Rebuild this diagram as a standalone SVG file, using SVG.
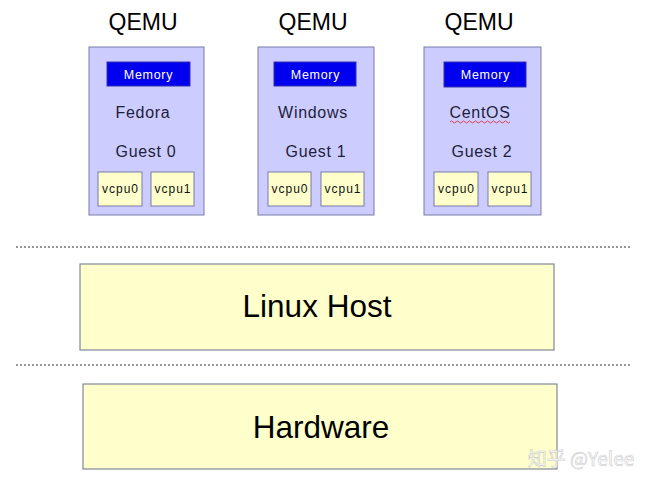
<svg xmlns="http://www.w3.org/2000/svg" width="650" height="486" viewBox="0 0 650 486">
<style>
.qemu{font-family:"Liberation Sans",Arial,sans-serif;font-size:23px;fill:#000;text-anchor:middle}
.guest{fill:#ccccff;stroke:#7a7aa8;stroke-width:1}
.mem{fill:#0000ee;stroke:#3333aa;stroke-width:1}
.memt{font-family:"Liberation Sans",Arial,sans-serif;font-size:12.5px;fill:#fff;text-anchor:middle;letter-spacing:0.7px}
.lbl{font-family:"Liberation Sans",Arial,sans-serif;font-size:16px;fill:#1e1e3a;text-anchor:middle;letter-spacing:0.7px}
.cpu{fill:#ffffcc;stroke:#7a7aa8;stroke-width:1}
.cput{font-family:"Liberation Sans",Arial,sans-serif;font-size:12px;fill:#111;text-anchor:middle;letter-spacing:1px}
.layer{fill:#ffffcc;stroke:#808898;stroke-width:1.2}
.big{font-family:"Liberation Sans",Arial,sans-serif;font-size:31.5px;fill:#000;text-anchor:middle}
.dot{stroke:#333;stroke-width:1;stroke-dasharray:2,2}
</style>
<g id="guest0">
<text class="qemu" x="143" y="30">QEMU</text>
<rect class="guest" x="89" y="47" width="115" height="168"/>
<rect class="mem" x="107" y="62" width="83" height="24"/>
<text class="memt" x="148.5" y="78.5">Memory</text>
<text class="lbl" x="143" y="118">Fedora</text>
<text class="lbl" x="146" y="157">Guest 0</text>
<rect class="cpu" x="98" y="172" width="44" height="34"/>
<text class="cput" x="120.5" y="193">vcpu0</text>
<rect class="cpu" x="151" y="172" width="43" height="34"/>
<text class="cput" x="173" y="193">vcpu1</text>
</g>
<g id="guest1">
<text class="qemu" x="313" y="30">QEMU</text>
<rect class="guest" x="258" y="47" width="116" height="168"/>
<rect class="mem" x="274" y="62" width="82" height="24"/>
<text class="memt" x="315.5" y="78.5">Memory</text>
<text class="lbl" x="313" y="118">Windows</text>
<text class="lbl" x="316" y="157">Guest 1</text>
<rect class="cpu" x="268" y="172" width="43" height="34"/>
<text class="cput" x="290" y="193">vcpu0</text>
<rect class="cpu" x="321" y="172" width="43" height="34"/>
<text class="cput" x="343" y="193">vcpu1</text>
</g>
<g id="guest2">
<text class="qemu" x="479" y="30">QEMU</text>
<rect class="guest" x="424" y="47" width="117" height="168"/>
<rect class="mem" x="444" y="62" width="82" height="25"/>
<text class="memt" x="485.5" y="78.5">Memory</text>
<text class="lbl" x="480" y="118">CentOS</text>
<path d="M450,122 q1.5,-2 3,0 t3,0 t3,0 t3,0 t3,0 t3,0 t3,0 t3,0 t3,0 t3,0 t3,0 t3,0 t3,0 t3,0 t3,0 t3,0 t3,0 t3,0 t3,0 t3,0" fill="none" stroke="#dd3344" stroke-width="0.9"/>
<text class="lbl" x="482" y="157">Guest 2</text>
<rect class="cpu" x="434" y="172" width="44" height="34"/>
<text class="cput" x="456.5" y="193">vcpu0</text>
<rect class="cpu" x="488" y="172" width="43" height="34"/>
<text class="cput" x="510" y="193">vcpu1</text>
</g>
<g id="separators">
<line class="dot" x1="16" y1="247" x2="630" y2="247"/>
<line class="dot" x1="16" y1="365" x2="630" y2="365"/>
</g>
<g id="linux-host">
<rect class="layer" x="80" y="264" width="474" height="86"/>
<text class="big" x="317" y="317">Linux Host</text>
</g>
<g id="hardware">
<rect class="layer" x="83" y="384" width="474" height="85"/>
<text class="big" x="321" y="438">Hardware</text>
</g>
<text x="581" y="466" font-family="'Noto Sans CJK SC','Liberation Sans',sans-serif" font-size="19" fill="#ffffff" stroke="#c8c8c8" stroke-width="0.6" text-anchor="middle" opacity="0.9">知乎 @Yelee</text>
</svg>
